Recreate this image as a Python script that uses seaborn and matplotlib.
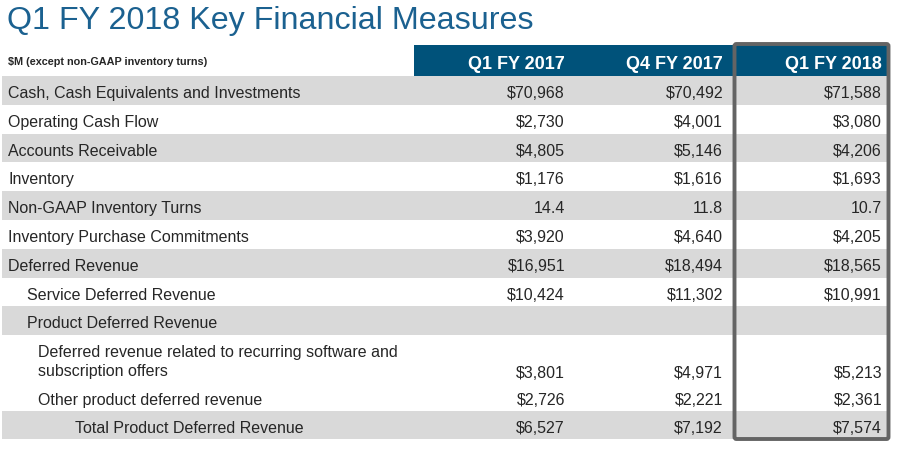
"""
Q1 FY 2018 key financial measures table
"""

import numpy as np
import matplotlib.pyplot as plt
import seaborn as sns
from matplotlib.patches import Rectangle, FancyBboxPatch

# Data
title = "Q1 FY 2018 Key Financial Measures"
unit_note = "$M (except non-GAAP inventory turns)"
periods = ["Q1 FY 2017", "Q4 FY 2017", "Q1 FY 2018"]
row_labels = [
    "Cash, Cash Equivalents and Investments",
    "Operating Cash Flow",
    "Accounts Receivable",
    "Inventory",
    "Non-GAAP Inventory Turns",
    "Inventory Purchase Commitments",
    "Deferred Revenue",
    "Service Deferred Revenue",
    "Product Deferred Revenue",
    "Deferred revenue related to recurring software and\nsubscription offers",
    "Other product deferred revenue",
    "Total Product Deferred Revenue",
]
q1_fy2017 = [70968, 2730, 4805, 1176, 14.4, 3920, 16951, 10424, np.nan, 3801, 2726, 6527]
q4_fy2017 = [70492, 4001, 5146, 1616, 11.8, 4640, 18494, 11302, np.nan, 4971, 2221, 7192]
q1_fy2018 = [71588, 3080, 4206, 1693, 10.7, 4205, 18565, 10991, np.nan, 5213, 2361, 7574]
turns_row = 4

# Layout / style
indent = [8, 8, 8, 8, 8, 8, 8, 27, 27, 38, 38, 75]
row_h = [28.8] * 9 + [48, 28, 28]
shaded = [1, 0, 1, 0, 1, 0, 1, 0, 1, 0, 0, 1]
col_right = [565, 723, 882]
table_top = 77

TITLE_BLUE = "#1b6190"
HEADER_BLUE = "#00527a"
GRAY = "#d9d9d9"
BOX = "#646464"
TEXT = "#262626"


def fmt(v, i):
    if np.isnan(v):
        return ""
    if i == turns_row:
        return f"{v:.1f}"
    return f"${v:,.0f}"


def main():
    sns.set_theme(style="white")
    plt.rcParams['font.family'] = ['Liberation Sans', 'DejaVu Sans']

    fig = plt.figure(figsize=(9.07, 4.60), dpi=100)
    ax = fig.add_axes([0, 0, 1, 1])
    ax.set_xlim(0, 907)
    ax.set_ylim(460, 0)
    ax.axis('off')

    ax.text(7, 29, title, fontsize=23.2, color=TITLE_BLUE, va='baseline')
    ax.text(8, 65, unit_note, fontsize=7.8, fontweight='bold', color=TEXT, va='baseline')

    # header band
    ax.add_patch(Rectangle((414, 46), 474, 31, color=HEADER_BLUE, lw=0))
    for x, p in zip(col_right, periods):
        ax.text(x, 69, p, fontsize=13, fontweight='bold', color='white',
                ha='right', va='baseline')

    columns = [q1_fy2017, q4_fy2017, q1_fy2018]
    tops = table_top + np.concatenate([[0], np.cumsum(row_h)[:-1]])
    for i, label in enumerate(row_labels):
        top, h = tops[i], row_h[i]
        if shaded[i]:
            ax.add_patch(Rectangle((2, top), 886, h, color=GRAY, lw=0))
        lines = label.split("\n")
        for k, line in enumerate(lines):
            ax.text(indent[i], top + 21 + 19 * k, line, fontsize=11.5,
                    color=TEXT, va='baseline')
        val_y = top + 21 if len(lines) == 1 else top + 42
        for x, col in zip(col_right, columns):
            ax.text(x, val_y, fmt(col[i], i), fontsize=11.5, color=TEXT,
                    ha='right', va='baseline')

    # highlight box around latest quarter
    ax.add_patch(FancyBboxPatch((734.5, 45), 154, 395,
                                boxstyle="round,pad=0,rounding_size=2",
                                fill=False, ec=BOX, lw=2.8))

    fig.savefig('out.png', dpi=100)


if __name__ == "__main__":
    main()
